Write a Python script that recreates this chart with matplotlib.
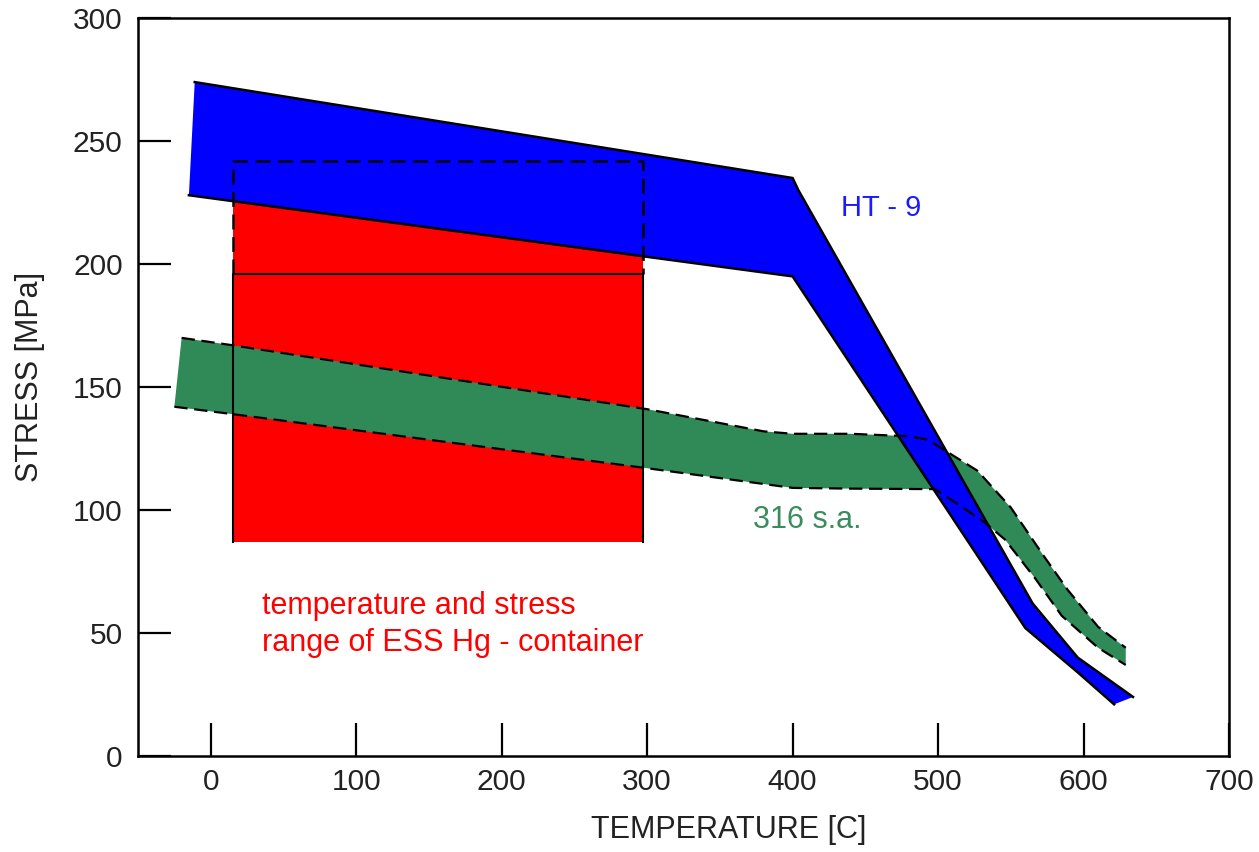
import numpy as np
import matplotlib.pyplot as plt

plt.rcParams['font.family'] = ['Liberation Sans', 'DejaVu Sans']

# HT-9 band (upper / lower edge)
ht9_upper_t = [-11, 400, 404, 565, 596, 634]
ht9_upper_s = [274, 235, 230, 62, 40, 24]
ht9_lower_t = [-15, 400, 560, 596, 621]
ht9_lower_s = [228, 195, 52, 34, 21]

# 316 s.a. band (upper / lower edge)
ss_upper_t = [-20, 15, 300, 380, 400, 440, 480, 493, 504, 527, 550, 573, 589, 610, 629]
ss_upper_s = [170, 167, 141, 132, 131, 131, 130, 128.6, 124.5, 116, 101, 81, 67.6, 52.5, 44]
ss_lower_t = [-25, 15, 300, 400, 440, 498, 512, 532, 546, 567, 585, 610, 629]
ss_lower_s = [142, 139, 117, 109, 108.7, 108.5, 103, 95, 88, 72, 57, 44, 37]

# ESS Hg container range
ess_temp = [15, 297]
ess_stress_low = 87
ess_stress_mid = 196
ess_stress_high = 242

xticks = [0, 100, 200, 300, 400, 500, 600, 700]
yticks = [0, 50, 100, 150, 200, 250, 300]

fig = plt.figure(figsize=(12.59, 8.52), dpi=100)
ax = fig.add_axes([0.1096, 0.1127, 0.8666, 0.866])

# red region
ax.fill_between(ess_temp, ess_stress_low, ess_stress_high, color='#ff0000', lw=0, zorder=1)

# green band
g_x = np.concatenate([ss_upper_t, ss_lower_t[::-1]])
g_y = np.concatenate([ss_upper_s, ss_lower_s[::-1]])
ax.fill(g_x, g_y, color='#2f8a57', lw=0, zorder=2)

# blue band
b_x = np.concatenate([ht9_upper_t, ht9_lower_t[::-1]])
b_y = np.concatenate([ht9_upper_s, ht9_lower_s[::-1]])
ax.fill(b_x, b_y, color='#0000ff', lw=0, zorder=3)
ax.plot(ht9_upper_t, ht9_upper_s, color='black', lw=1.8, zorder=4)
ax.plot(ht9_lower_t, ht9_lower_s, color='black', lw=1.8, zorder=4)

ax.plot(ss_upper_t, ss_upper_s, color='black', lw=1.6, ls=(0, (6, 3)), zorder=5)
ax.plot(ss_lower_t, ss_lower_s, color='black', lw=1.6, ls=(0, (6, 3)), zorder=5)

# box around ESS range
t0, t1 = ess_temp
ax.plot([t0, t0, t1, t1], [ess_stress_mid, ess_stress_high, ess_stress_high, ess_stress_mid],
        color='black', lw=1.8, ls=(0, (6, 3)), zorder=6)
ax.plot([t0, t0, t1, t1], [ess_stress_low, ess_stress_mid, ess_stress_mid, ess_stress_low],
        color='black', lw=1.5, zorder=6)

ax.text(433, 223, 'HT - 9', color='#1a1aff', fontsize=21, va='center', ha='left')
ax.text(373, 96, '316 s.a.', color='#3a8c5c', fontsize=22, va='center', ha='left')
ax.text(35, 53.5, 'temperature and stress\nrange of ESS Hg - container', color='#ff0000',
        fontsize=22, va='center', ha='left', linespacing=1.3)

ax.set_xlim(-50, 700)
ax.set_ylim(0, 300)
ax.set_xticks(xticks)
ax.set_yticks(yticks)
ax.tick_params(direction='in', length=24, width=1.6, labelsize=21.5, colors='black',
               labelcolor='#222222')
ax.tick_params(axis='x', pad=9)
ax.tick_params(axis='y', pad=11)
for sp in ax.spines.values():
    sp.set_linewidth(1.8)

ax.set_xlabel('TEMPERATURE [C]', fontsize=22, color='#222222')
ax.xaxis.set_label_coords(0.541, -0.1)
ax.xaxis.label.set_va('center')
ax.set_ylabel('STRESS [MPa]', fontsize=22, color='#222222')
ax.yaxis.set_label_coords(-0.099, 0.514)
ax.yaxis.label.set_va('center')

fig.savefig('out.png', dpi=100)
